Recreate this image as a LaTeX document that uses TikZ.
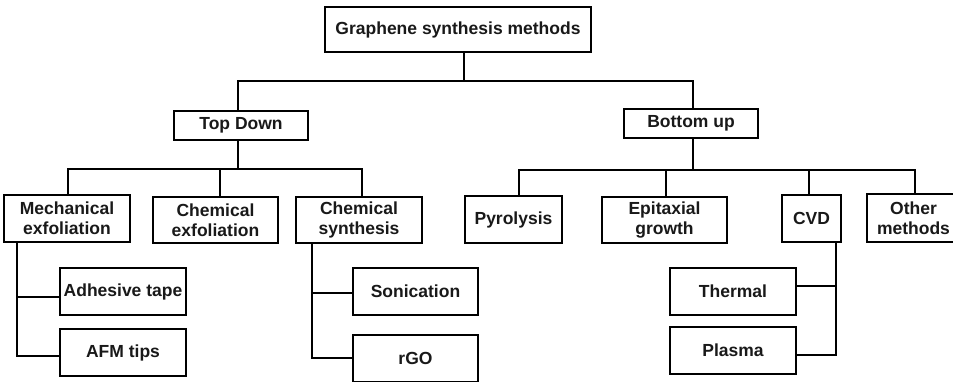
\documentclass[tikz,border=0pt]{standalone}
\usepackage{fontspec}
\setmainfont{Liberation Sans}
\begin{document}
\begin{tikzpicture}[x=1pt,y=-1pt,
  box/.style={draw=black, line width=1.2pt, inner sep=0pt, align=center,
    font=\bfseries\fontsize{17.5}{20}\selectfont, text=black!90},
  conn/.style={draw=black, line width=2.6pt, line join=miter}]
\path[use as bounding box, clip] (0,0) rectangle (953,381);
\fill[white] (0,0) rectangle (953,381);
% level 0 and 1
\node[box, minimum width=266pt, minimum height=45pt] (root) at (458,29.5) {Graphene synthesis methods};
\node[box, minimum width=134pt, minimum height=29pt] (td) at (241,125.5) {Top Down};
\node[box, minimum width=134pt, minimum height=29pt] (bu) at (691,123.5) {Bottom up};
% level 2
\node[box, minimum width=126pt, minimum height=47pt] (me) at (67,218.5) {Mechanical\\exfoliation};
\node[box, minimum width=125pt, minimum height=46pt] (ce) at (215.5,220) {Chemical\\exfoliation};
\node[box, minimum width=126pt, minimum height=46pt] (cs) at (359,220) {Chemical\\synthesis};
\node[box, minimum width=97pt, minimum height=47pt] (py) at (513.5,219.5) {Pyrolysis};
\node[box, minimum width=125pt, minimum height=46pt] (ep) at (664.5,220) {Epitaxial\\growth};
\node[box, minimum width=59pt, minimum height=47pt] (cvd) at (811.5,218.5) {CVD};
\node[box, minimum width=93pt, minimum height=48pt] (om) at (913.5,218) {Other\\methods};
% level 3
\node[box, minimum width=126pt, minimum height=47pt] (at) at (123,291.5) {Adhesive tape};
\node[box, minimum width=126pt, minimum height=47pt] (afm) at (123,352.5) {AFM tips};
\node[box, minimum width=125pt, minimum height=47pt] (son) at (415.5,291.5) {Sonication};
\node[box, minimum width=125pt, minimum height=47pt] (rgo) at (415.5,358.5) {rGO};
\node[box, minimum width=126pt, minimum height=47pt] (th) at (733,291.5) {Thermal};
\node[box, minimum width=126pt, minimum height=47pt] (pl) at (733,350.5) {Plasma};
% junction coordinates
\coordinate (r0) at (464,81);
\coordinate (a1) at (238,81);
\coordinate (a2) at (693,81);
\coordinate (t0) at (238,169);
\coordinate (t1) at (68,169);
\coordinate (t2) at (220,169);
\coordinate (t3) at (362,169);
\coordinate (b0) at (693,170);
\coordinate (b1) at (519,170);
\coordinate (b2) at (666,170);
\coordinate (b3) at (809,170);
\coordinate (b4) at (915,170);
\coordinate (m1) at (17,297);
\coordinate (m2) at (17,356);
\coordinate (c1) at (312,293);
\coordinate (c2) at (312,358);
\coordinate (v1) at (836,286);
\coordinate (v2) at (836,355);
% connectors
\draw[conn] (root.south -| r0) -- (r0);
\draw[conn] (td.north -| a1) -- (a1) -- (a2) -- (bu.north -| a2);
\draw[conn] (td.south -| t0) -- (t0);
\draw[conn] (me.north -| t1) -- (t1) -- (t3) -- (cs.north -| t3);
\draw[conn] (t2) -- (ce.north -| t2);
\draw[conn] (bu.south -| b0) -- (b0);
\draw[conn] (py.north -| b1) -- (b1) -- (b4) -- (om.north -| b4);
\draw[conn] (b2) -- (ep.north -| b2);
\draw[conn] (b3) -- (cvd.north -| b3);
\draw[conn] (me.south -| m2) -- (m2) -- (afm.west |- m2);
\draw[conn] (m1) -- (at.west |- m1);
\draw[conn] (cs.south -| c2) -- (c2) -- (rgo.west |- c2);
\draw[conn] (c1) -- (son.west |- c1);
\draw[conn] (cvd.south -| v2) -- (v2) -- (pl.east |- v2);
\draw[conn] (v1) -- (th.east |- v1);
\end{tikzpicture}
\end{document}
